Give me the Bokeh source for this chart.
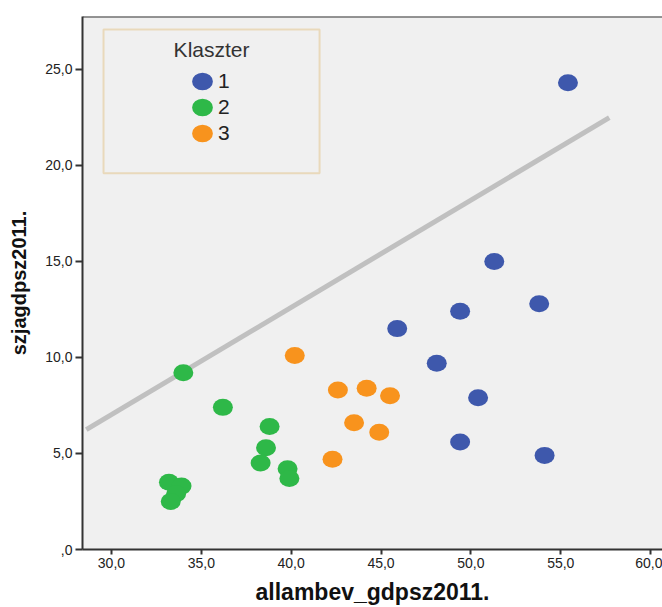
from bokeh.plotting import figure
from bokeh.models import Range1d, FixedTicker, Legend, LegendItem, BoxAnnotation, Span, Label
from bokeh.embed import file_html
from bokeh.resources import INLINE

# ---- data ----
cluster_names = ["1", "2", "3"]
cluster_colors = ["#3E58AC", "#2EB848", "#F8931D"]

c1_x = [55.4, 51.3, 53.8, 49.4, 45.9, 48.1, 50.4, 49.4, 54.1]
c1_y = [24.3, 15.0, 12.8, 12.4, 11.5, 9.7, 7.9, 5.6, 4.9]

c2_x = [34.0, 36.2, 38.8, 38.6, 38.3, 39.8, 39.9, 33.2, 33.9, 33.6, 33.3]
c2_y = [9.2, 7.4, 6.4, 5.3, 4.5, 4.2, 3.7, 3.5, 3.3, 2.9, 2.5]

c3_x = [40.2, 42.6, 44.2, 45.5, 43.5, 44.9, 42.3]
c3_y = [10.1, 8.3, 8.4, 8.0, 6.6, 6.1, 4.7]

fit_x = [28.6, 57.7]
fit_y = [6.24, 22.49]

x_ticks = [30, 35, 40, 45, 50, 55, 60]
x_tick_labels = ["30,0", "35,0", "40,0", "45,0", "50,0", "55,0", "60,0"]
y_ticks = [0, 5, 10, 15, 20, 25]
y_tick_labels = [",0", "5,0", "10,0", "15,0", "20,0", "25,0"]

x_label = "allambev_gdpsz2011."
y_label = "szjagdpsz2011."
legend_title = "Klaszter"

# ---- figure ----
FONT = "Liberation Sans"
X0, X1 = 28.39, 60.66
Y0, Y1 = 0.0, 27.75

p = figure(width=662, height=607,
           x_range=Range1d(X0, X1), y_range=Range1d(Y0, Y1),
           output_backend="svg", toolbar_location=None,
           min_border_left=82, min_border_right=0,
           min_border_top=16, min_border_bottom=57,
           background_fill_color="#F0F0F0", border_fill_color="white",
           outline_line_color=None)

p.xgrid.visible = False
p.ygrid.visible = False

for ax, ticks, labels, tick_out in ((p.xaxis, x_ticks, x_tick_labels, 5),
                                    (p.yaxis, y_ticks, y_tick_labels, 7)):
    ax.ticker = FixedTicker(ticks=ticks)
    ax.major_label_overrides = dict(zip(ticks, labels))
    ax.axis_line_color = "#333333"
    ax.axis_line_width = 2
    ax.major_tick_line_color = "#333333"
    ax.major_tick_line_width = 2
    ax.major_tick_in = 0
    ax.major_tick_out = tick_out
    ax.minor_tick_line_color = None
    ax.major_label_text_font = FONT
    ax.major_label_text_color = "#222222"
    ax.axis_label_text_font = FONT
    ax.axis_label_text_font_style = "bold"
    ax.axis_label_text_color = "#111111"

p.xaxis.axis_label = x_label
p.xaxis.major_label_text_font_size = "14px"
p.xaxis.major_label_standoff = 3
p.xaxis.axis_label_text_font_size = "23px"
p.xaxis.axis_label_standoff = 8

p.yaxis.axis_label = y_label
p.yaxis.major_label_text_font_size = "14px"
p.yaxis.major_label_standoff = 3
p.yaxis.axis_label_text_font_size = "20px"
p.yaxis.axis_label_standoff = 12

# top frame line
p.add_layout(Span(location=Y1, dimension="width", line_color="#333333", line_width=2))

# fit line
p.line(fit_x, fit_y, line_color="#C0C0C0", line_width=5)

renderers = []
for xs, ys, col in ((c1_x, c1_y, cluster_colors[0]),
                    (c2_x, c2_y, cluster_colors[1]),
                    (c3_x, c3_y, cluster_colors[2])):
    r = p.ellipse(x=xs, y=ys, width=20, height=17,
                  width_units="screen", height_units="screen",
                  fill_color=col, line_color=None)
    renderers.append(r)

# legend frame and title
p.add_layout(BoxAnnotation(left=29.56, right=41.58, top=27.07, bottom=19.59,
                           fill_color=None, line_color="#D9A441", line_width=2))
p.add_layout(Label(x=35.57, y=26.02, text=legend_title,
                   text_align="center", text_baseline="middle",
                   text_font=FONT, text_font_size="21px", text_color="#333333"))

legend = Legend(items=[LegendItem(label=n, renderers=[r]) for n, r in zip(cluster_names, renderers)],
                location=(105, 403),
                padding=0, margin=0, border_line_color=None,
                background_fill_alpha=0,
                glyph_width=30, glyph_height=26, label_standoff=1,
                spacing=0,
                label_text_font=FONT, label_text_font_size="21px",
                label_text_color="#222222")
p.add_layout(legend)

open("out.html", "w").write(file_html(p, INLINE))
